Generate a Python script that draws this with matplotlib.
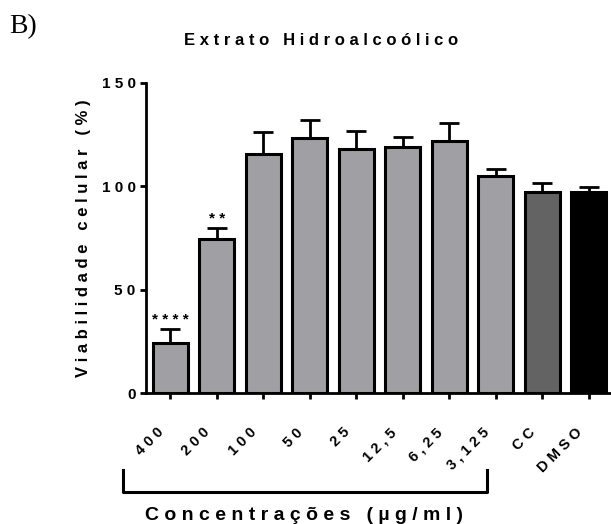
import matplotlib
matplotlib.use("Agg")
import matplotlib.pyplot as plt
import matplotlib.transforms as mtransforms

# data
labels = ['400', '200', '100', '50', '25', '12,5', '6,25', '3,125', 'CC', 'DMSO']
viab = [24.5, 74.5, 115.5, 123.2, 118.0, 119.0, 122.0, 105.0, 97.0, 97.0]
sem = [6.5, 5.2, 10.5, 8.8, 8.8, 4.6, 8.4, 3.2, 4.4, 2.6]
stars = ['****', '**', '', '', '', '', '', '', '', '']
colours = ['#a0a0a4'] * 8 + ['#636363', '#000000']

plt.rcParams['font.family'] = ['Liberation Sans', 'DejaVu Sans']


def spaced(s):
    # the original figure uses wide letter spacing
    return ' '.join(s)


fig = plt.figure(figsize=(6.11, 5.24), dpi=100)
ax = fig.add_axes([0.239, 0.2494, 0.759, 0.5928])

x = list(range(len(labels)))
ax.bar(x, viab, width=0.75, color=colours, edgecolor='black', linewidth=2.2, zorder=2)
ax.errorbar(x, viab, yerr=[[0] * len(sem), sem], fmt='none', ecolor='black',
            elinewidth=2.0, capsize=7, capthick=2.0, zorder=1)

for i in range(len(x)):
    if stars[i]:
        ax.text(x[i], viab[i] + sem[i] + 1.0, spaced(stars[i]), ha='center', va='bottom',
                fontsize=11, fontweight='bold')

ax.set_xlim(-0.52, 9.45)
ax.set_ylim(0, 150)
ax.set_yticks([0, 50, 100, 150])
ax.set_yticklabels([spaced(str(v)) for v in [0, 50, 100, 150]], fontsize=11, fontweight='bold')
ax.set_xticks(x)
ax.set_xticklabels([])

# rotated category labels, offset a little left/down of each tick
xtrans = mtransforms.blended_transform_factory(ax.transData, ax.transAxes)
lab_shift = mtransforms.ScaledTranslation(-14 / 100, -32 / 100, fig.dpi_scale_trans)
for i in range(len(x)):
    ax.text(x[i], 0, spaced(labels[i]), transform=xtrans + lab_shift, rotation=45,
            ha='right', va='top', rotation_mode='anchor', fontsize=10.5, fontweight='bold')

ax.spines['top'].set_visible(False)
ax.spines['right'].set_visible(False)
ax.spines['left'].set_linewidth(2)
ax.spines['bottom'].set_linewidth(2)
ax.tick_params(axis='both', width=2, length=4.5, direction='out')
ax.tick_params(axis='y', pad=3)

ax.set_ylabel(spaced('Viabilidade celular (%)'), fontsize=12, fontweight='bold', labelpad=8)

# bracket under the concentrations
ax.plot([-1.01, -1.01, 6.8, 6.8], [-0.247, -0.318, -0.318, -0.247], color='black',
        linewidth=2.2, transform=xtrans, clip_on=False)

fig.text(0.497, 0.016, spaced('Concentrações (µg/ml)'), ha='center', va='center',
         fontsize=14, fontweight='bold')
fig.text(0.525, 0.922, spaced('Extrato Hidroalcoólico'), ha='center', va='center',
         fontsize=12, fontweight='bold')
fig.text(0.015, 0.95, 'B)', ha='left', va='center', fontsize=20,
         family=['Liberation Serif', 'DejaVu Serif'])

plt.savefig('out.png', dpi=100)
